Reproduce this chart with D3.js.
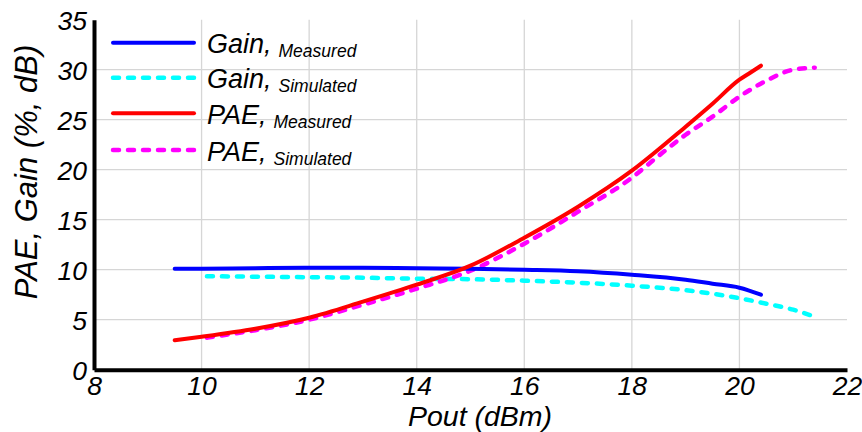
<!DOCTYPE html>
<html>
<head>
<meta charset="utf-8">
<script src="https://cdn.jsdelivr.net/npm/d3@7"></script>
<style>
  body { margin: 0; background: #fff; }
  svg text { font-family: "Liberation Sans"; font-style: italic; fill: #000; }
</style>
</head>
<body>
<svg id="chart"></svg>
<script>
// data
var gainMeasX = [9.5, 10, 11, 12, 13, 14, 15, 16, 17, 18, 19, 19.5, 20, 20.4];
var gainMeasY = [10.1, 10.1, 10.15, 10.2, 10.2, 10.15, 10.1, 10.0, 9.85, 9.5, 9.0, 8.6, 8.2, 7.5];
var gainSimX = [10.1, 11, 12, 13, 14, 15, 16, 17, 18, 19, 19.5, 20, 20.5, 21, 21.4];
var gainSimY = [9.35, 9.3, 9.25, 9.2, 9.1, 9.05, 8.9, 8.7, 8.4, 7.95, 7.6, 7.15, 6.6, 6.0, 5.3];
var paeMeasX = [9.5, 10, 11, 12, 13, 14, 15, 16, 17, 18, 19, 19.5, 20, 20.2, 20.4];
var paeMeasY = [2.95, 3.3, 4.1, 5.2, 6.8, 8.5, 10.4, 13.2, 16.3, 19.9, 24.3, 26.6, 29.0, 29.7, 30.4];
var paeSimX = [10.1, 11, 12, 13, 14, 15, 16, 17, 18, 18.5, 19, 19.5, 20, 20.5, 21, 21.4];
var paeSimY = [3.2, 3.95, 5.0, 6.5, 8.1, 9.9, 12.6, 15.8, 19.2, 21.4, 23.5, 25.3, 27.3, 28.9, 30.0, 30.2];

var xTicks = [8, 10, 12, 14, 16, 18, 20, 22];
var yTicks = [0, 5, 10, 15, 20, 25, 30, 35];

var seriesNames = ["Gain,", "Gain,", "PAE,", "PAE,"];
var seriesSubs = ["Measured", "Simulated", "Measured", "Simulated"];

var drawChart = function(){
    var width = 862, height = 432;
    var svg = d3.select("#chart").attr("width", width).attr("height", height)
        .attr("font-family", "Liberation Sans");

    // 軸の範囲
    var x = d3.scaleLinear().domain([8, 22]).range([94, 847]);
    var y = d3.scaleLinear().domain([0, 35]).range([369.7, 19.7]);

    // グリッド
    svg.append("g").selectAll("line")
        .data(xTicks.filter(function(d){ return d > 8 && d < 22; }))
        .enter().append("line")
        .attr("x1", function(d){ return x(d); }).attr("x2", function(d){ return x(d); })
        .attr("y1", y(35)).attr("y2", y(0))
        .attr("stroke", "#d6d6d6").attr("stroke-width", 1.3);
    svg.append("g").selectAll("line")
        .data(yTicks.filter(function(d){ return d > 0 && d < 35; }))
        .enter().append("line")
        .attr("x1", x(8)).attr("x2", x(22))
        .attr("y1", function(d){ return y(d); }).attr("y2", function(d){ return y(d); })
        .attr("stroke", "#d6d6d6").attr("stroke-width", 1.3);

    // 軸
    var xAxis = svg.append("g")
        .attr("transform", "translate(0," + y(0) + ")")
        .call(d3.axisBottom(x).tickValues(xTicks).tickSize(0).tickPadding(6));
    var yAxis = svg.append("g")
        .attr("transform", "translate(" + x(8) + ",0)")
        .call(d3.axisLeft(y).tickValues(yTicks).tickSize(0).tickPadding(7));
    [xAxis, yAxis].forEach(function(a){
        a.attr("font-family", "Liberation Sans");
        a.select(".domain").attr("stroke", "#000").attr("stroke-width", 4);
        a.selectAll("text").attr("font-size", 26.5);
    });
    xAxis.selectAll("text").attr("dy", "0.72em");
    yAxis.selectAll("text").attr("dy", "0.36em");

    // 軸タイトル
    svg.append("text")
        .attr("x", 480).attr("y", 425.5)
        .attr("text-anchor", "middle")
        .attr("font-size", 28.5)
        .text("Pout (dBm)");
    svg.append("text")
        .attr("transform", "translate(37,172) rotate(-90)")
        .attr("text-anchor", "middle")
        .attr("font-size", 31)
        .text("PAE, Gain (%, dB)");

    // 線
    var series = [
        {xs: gainMeasX, ys: gainMeasY, color: "#0000ff", dash: null},
        {xs: gainSimX, ys: gainSimY, color: "#00ffff", dash: "6,9"},
        {xs: paeMeasX, ys: paeMeasY, color: "#ff0000", dash: null},
        {xs: paeSimX, ys: paeSimY, color: "#ff00ff", dash: "6,9"}
    ];
    var line = d3.line()
        .x(function(d){ return x(d[0]); })
        .y(function(d){ return y(d[1]); })
        .curve(d3.curveMonotoneX);
    // 描く順番: 破線を下に
    [1, 3, 0, 2].forEach(function(i){
        var s = series[i];
        var pts = s.xs.map(function(v, k){ return [v, s.ys[k]]; });
        svg.append("path")
            .attr("d", line(pts))
            .attr("fill", "none")
            .attr("stroke", s.color)
            .attr("stroke-width", s.dash ? 4.5 : 4)
            .attr("stroke-linecap", "round")
            .attr("stroke-dasharray", s.dash);
    });

    // 凡例
    var legY = [42.7, 77.7, 113.3, 150];
    var leg = svg.append("g");
    series.forEach(function(s, i){
        leg.append("line")
            .attr("x1", 113).attr("x2", 194)
            .attr("y1", legY[i]).attr("y2", legY[i])
            .attr("stroke", s.color).attr("stroke-width", s.dash ? 4.5 : 4)
            .attr("stroke-linecap", "round")
            .attr("stroke-dasharray", s.dash);
        var t = leg.append("text")
            .attr("x", 207).attr("y", legY[i] + 10.5)
            .attr("font-size", 27);
        t.append("tspan").text(seriesNames[i]);
        t.append("tspan").attr("dx", 7).attr("dy", 4).attr("font-size", 17.5).text(seriesSubs[i]);
    });
};

drawChart();
</script>
</body>
</html>
